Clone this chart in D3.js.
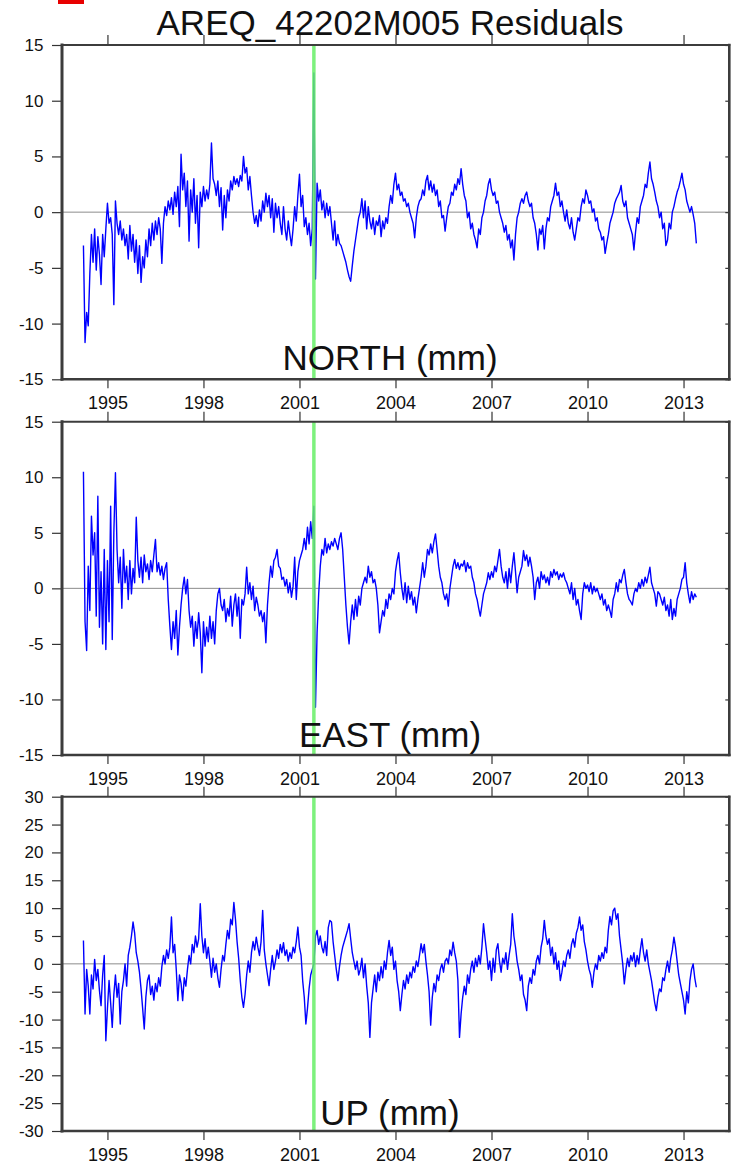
<!DOCTYPE html>
<html><head><meta charset="utf-8">
<script src="https://cdn.jsdelivr.net/npm/d3@7"></script>
<style>body{margin:0;background:#fff} svg{display:block}</style>
</head><body>
<svg id="c" width="740" height="1168"></svg>
<script>
const title = "AREQ_42202M005 Residuals";
const startYear = 1994.25, stepYear = 0.05;
const eventYear = 2001.45;
const xTicks = [1995, 1998, 2001, 2004, 2007, 2010, 2013];
const northTicks = [-15, -10, -5, 0, 5, 10, 15];
const eastTicks = [-15, -10, -5, 0, 5, 10, 15];
const upTicks = [-30, -25, -20, -15, -10, -5, 0, 5, 10, 15, 20, 25, 30];
const panelLabels = ["NORTH (mm)", "EAST (mm)", "UP (mm)"];

const north = [
 -3.0,-11.7,-9.0,-10.2,-5.5,-2.0,-4.5,-1.5,-5.2,-2.2,-3.8,-6.5,-2.0,-4.0,-1.5,
 0.8,-1.0,-0.5,-2.0,-8.3,1.0,-1.0,-2.0,-0.8,-2.5,-1.5,-3.0,-2.0,-4.2,-1.2,-3.5,-2.0,-4.5,-2.5,-5.5,
 -3.0,-6.3,-4.0,-5.0,-2.5,-4.0,-1.5,-3.0,-1.0,-2.5,-0.8,-2.0,-0.5,-1.5,-4.6,-1.0,0.5,-0.3,1.0,0.2,
 1.3,-0.2,1.8,0.5,2.3,-1.3,5.2,2.0,3.5,0.5,2.8,-2.6,2.0,0.0,3.0,-1.0,1.5,-3.2,1.8,0.5,
 2.3,1.0,2.0,1.2,2.5,6.2,3.0,2.5,1.5,2.8,0.5,2.2,-1.6,1.5,-0.5,2.0,1.0,2.8,2.0,3.2,
 2.5,3.0,2.3,3.3,2.8,5.0,3.5,4.0,2.0,3.2,1.5,0.0,-1.0,-0.3,-1.3,0.2,-0.8,1.0,0.0,1.7,
 0.5,1.5,-0.5,1.2,-1.8,0.8,-0.5,0.5,-1.0,-2.0,0.5,-1.5,-2.5,-0.8,-2.0,-3.0,-1.5,0.5,-0.8,1.5,
 3.4,0.5,1.5,-1.3,-0.5,-2.0,-1.0,-3.0,-1.5,12.5,-6.0,2.6,1.0,2.0,0.2,1.0,-0.5,0.8,-0.3,0.5,
 -1.0,-2.5,-0.8,-3.0,-2.0,-2.8,-3.0,-3.5,-4.0,-4.5,-5.2,-5.8,-6.2,-4.8,-3.5,-2.5,-1.5,-0.5,0.0,1.2,
 -0.5,1.0,-1.5,0.5,-0.8,-1.5,-0.5,-2.0,-0.8,-1.2,-0.3,-2.2,-0.8,-1.5,-0.5,-1.0,0.5,1.5,0.8,2.5,
 3.5,2.0,2.5,1.5,1.8,1.0,1.2,0.5,0.8,0.0,-0.5,-1.0,-2.3,-0.5,0.5,1.0,1.2,2.0,1.5,2.8,
 3.3,2.0,2.8,1.8,2.5,1.5,2.0,0.5,1.0,-0.5,-0.3,-1.7,-0.5,0.5,0.8,1.8,1.5,2.5,2.0,3.0,
 2.5,3.9,2.5,1.5,1.0,-0.5,0.0,-1.5,-1.0,-2.0,-2.5,-3.2,-1.5,-2.0,-0.5,0.0,1.0,1.5,2.5,3.0,
 2.0,1.5,1.8,0.8,1.0,0.0,-0.5,-1.0,-1.8,-1.2,-2.5,-2.0,-3.2,-2.5,-4.3,-2.0,-0.5,0.0,0.8,1.2,
 0.8,1.5,1.8,1.0,0.5,0.8,-0.5,-1.0,-2.0,-3.4,-1.5,-2.0,-1.2,-3.3,-1.5,-0.5,-0.8,0.5,1.0,1.5,
 2.6,1.5,1.8,0.5,1.0,0.0,-0.8,0.2,-1.0,-1.5,-0.5,-1.8,-2.5,-1.5,-0.5,-0.8,0.5,1.2,0.8,2.0,
 1.5,0.8,1.0,0.0,0.3,-0.8,-0.5,-1.5,-1.8,-2.5,-2.2,-3.7,-2.8,-2.0,-1.0,-0.5,0.0,0.8,1.2,1.5,
 1.8,2.4,1.0,0.5,1.0,-0.5,-1.0,-1.5,-2.0,-3.4,-1.8,-0.5,-1.0,0.5,1.0,1.5,2.5,2.2,3.5,4.5,
 3.0,2.5,1.8,1.0,0.5,-0.5,0.0,-1.5,-1.0,-3.0,-2.5,-1.0,-1.5,0.0,0.5,1.2,1.8,2.2,2.8,3.5,
 2.5,2.0,1.0,0.5,0.0,0.5,-0.2,-1.0,-2.8
];

const east = [
 10.5,-3.0,-5.6,2.0,-2.0,6.5,3.0,5.0,-2.5,8.3,-3.5,1.5,-5.0,3.5,-5.5,
 2.5,-3.0,7.4,-4.6,5.0,10.4,3.5,0.5,2.8,-1.8,3.5,0.5,2.0,-1.0,2.5,-0.5,1.8,0.5,6.4,2.5,
 1.0,2.8,0.5,3.0,1.5,2.2,0.8,2.5,1.5,3.0,4.4,1.5,2.3,1.2,2.0,0.8,1.8,2.3,-1.0,-3.4,
 -5.5,-3.0,-4.5,-2.0,-6.0,-3.5,-1.5,0.0,1.0,-0.5,0.8,-2.0,-3.5,-2.5,-5.2,-3.0,-4.5,-2.2,-4.0,-7.6,
 -3.0,-5.2,-3.5,-4.8,-2.5,-4.5,-3.0,-5.0,-2.0,-0.5,0.0,-1.5,-2.0,-1.0,-3.0,-1.8,-2.5,-0.7,-3.4,-1.5,
 -0.5,-2.5,-0.8,-4.5,-1.0,-1.5,-0.5,1.9,-0.5,0.5,-1.0,0.2,-2.0,-0.8,-1.5,-2.5,-2.0,-3.0,-2.2,-4.9,
 -1.5,0.5,2.0,1.0,2.5,2.8,3.5,2.0,1.8,0.8,1.0,0.2,0.8,-0.4,0.5,-0.8,0.2,2.8,-1.0,1.5,
 2.5,3.0,3.5,4.5,3.5,5.5,4.0,6.0,4.5,7.4,-10.7,-4.0,-0.5,2.0,3.5,3.0,4.5,3.2,4.0,3.5,
 4.2,3.8,4.5,4.0,3.5,4.5,5.0,3.5,1.0,-1.5,-3.5,-5.0,-3.0,-1.5,-2.8,-1.0,-2.5,-0.7,-1.5,0.0,
 0.5,1.0,0.5,2.0,1.0,1.5,0.5,0.8,0.0,-1.5,-4.0,-3.0,-2.0,-2.5,-1.0,-1.8,-0.5,-1.0,0.0,-0.5,
 1.5,2.5,3.2,1.4,0.0,-1.0,0.5,-1.3,0.2,-1.0,-0.3,-1.5,-0.8,-2.2,-1.0,0.0,1.0,2.3,1.0,2.0,
 3.5,3.0,4.0,3.2,4.2,4.9,3.5,2.0,1.0,0.5,-0.5,-1.0,-0.5,-1.6,0.0,1.0,2.0,2.6,1.8,2.3,
 1.7,2.2,2.0,2.5,1.5,2.3,1.8,2.0,1.0,0.5,-0.5,-1.0,-1.8,-2.5,-1.5,-0.5,0.0,0.5,1.4,0.8,
 1.5,1.0,2.0,1.5,2.5,3.5,2.0,1.0,0.5,1.5,0.0,1.8,0.5,2.0,3.2,1.5,-0.4,1.0,1.5,2.0,
 3.4,2.5,3.0,2.0,2.8,2.0,1.0,-1.0,0.5,1.0,0.0,1.5,0.8,1.2,0.5,1.0,0.3,1.5,1.0,1.7,
 1.2,1.5,0.8,1.3,1.0,1.4,0.8,0.5,0.0,-0.5,0.5,-1.0,0.0,-1.5,-1.0,-2.0,-2.8,-0.5,0.5,0.0,
 0.3,-0.3,0.5,-0.5,0.2,-0.3,0.0,-0.5,-1.0,-0.5,-1.5,-1.0,-2.0,-1.5,-2.0,-2.6,-1.0,-0.5,0.5,-0.3,
 0.8,0.5,1.2,1.7,0.5,-0.5,-1.0,-1.2,-1.5,-0.5,0.0,-0.3,0.5,0.0,0.8,0.2,1.0,0.5,1.2,1.9,
 0.5,0.0,-0.5,-1.6,-0.3,-0.5,-1.0,-1.5,-0.8,-2.0,-1.5,-2.5,-1.0,-2.8,-1.8,-2.5,-1.0,-0.5,0.0,0.8,
 1.0,2.3,0.5,-0.5,-1.3,-0.3,-1.0,-0.5,-0.8
];

const up = [
 4.2,-9.0,-1.0,-4.0,-9.0,-2.0,-4.5,0.8,-3.0,-1.0,-4.8,-7.5,-2.0,1.5,-13.8,
 -8.0,-3.0,-7.0,-11.4,-5.5,-2.0,-6.0,-3.5,-10.8,-5.0,-3.0,0.0,-4.0,1.5,3.0,5.0,7.5,5.5,2.0,0.5,
 -1.5,-4.5,-8.0,-11.7,-6.0,-3.0,-2.0,-5.5,-4.0,-6.5,-3.5,-5.0,-2.5,-4.0,-0.5,1.5,0.0,2.5,1.0,3.0,
 8.4,2.0,3.5,-1.0,-6.6,-2.0,-3.5,-6.6,-2.5,-4.0,-1.0,1.5,0.0,3.5,2.0,5.0,3.0,4.5,10.8,5.0,
 2.0,4.5,1.0,3.0,0.5,-2.4,1.0,-1.5,0.0,-2.5,-4.2,-1.0,1.5,0.5,3.5,6.0,4.5,8.0,7.0,11.0,
 8.0,4.0,1.0,-3.0,-6.0,-7.8,-5.5,-2.0,0.5,-1.5,2.0,4.0,2.5,4.8,3.0,1.5,4.0,9.6,2.5,0.0,
 -2.0,-3.9,-1.0,1.5,-1.0,0.5,2.5,1.0,3.5,2.0,3.8,1.5,2.5,0.5,2.0,1.0,3.0,2.0,4.0,6.6,
 3.0,1.5,-3.0,-6.0,-10.8,-8.0,-4.5,-2.0,-1.0,0.0,5.0,6.0,3.5,5.0,3.0,2.0,4.0,1.5,6.5,7.8,
 7.5,4.0,1.5,-1.0,-3.0,-0.5,1.5,3.0,4.0,5.0,6.0,7.2,4.5,2.0,0.5,-1.0,0.5,-2.0,-1.0,1.0,
 -2.5,0.0,-4.0,-7.0,-13.2,-7.0,-4.5,-2.0,-5.0,-1.5,-3.0,-0.5,-2.5,0.5,-1.0,2.0,4.2,1.5,3.0,-1.0,
 0.5,-3.0,-5.0,-8.4,-5.5,-3.0,-4.5,-2.0,-3.5,-1.5,-2.5,-0.5,-1.5,0.5,-0.5,1.5,3.6,2.0,3.5,0.5,
 -2.0,-5.0,-11.0,-6.0,-3.5,-5.0,-2.0,-3.0,-1.0,0.0,-1.5,0.5,1.0,0.0,2.5,1.5,3.9,2.0,0.5,-3.0,
 -13.2,-9.0,-6.0,-4.0,-5.5,-2.0,-3.5,-1.0,0.5,-1.5,1.0,-0.5,1.5,0.0,3.0,7.2,4.5,2.0,-1.0,0.5,
 -3.0,1.0,-1.5,2.5,3.6,0.5,-1.5,1.0,0.0,2.0,-1.0,1.5,3.5,9.0,5.0,3.0,0.5,-1.0,-3.0,-2.0,
 -5.5,-6.5,-8.4,-4.0,-2.5,-3.5,-1.0,-2.0,0.5,1.5,0.0,3.0,4.5,7.8,5.0,3.5,4.5,1.5,3.0,0.0,
 2.0,-1.0,0.5,-3.0,-1.5,0.5,-0.5,1.5,2.5,1.0,3.5,4.5,3.0,5.5,6.5,8.4,6.0,7.0,4.0,2.5,
 0.5,-1.0,-2.0,-4.2,-1.5,0.0,-1.0,1.5,0.5,2.0,1.0,3.0,2.0,6.0,8.5,7.0,9.5,10.0,8.0,9.0,
 5.0,2.5,0.0,-3.6,-1.0,1.0,-0.5,1.5,0.5,2.0,-0.5,1.5,0.0,2.5,4.5,2.0,0.5,2.5,0.0,-1.5,
 -3.0,-5.0,-7.0,-8.4,-6.0,-4.5,-5.0,-2.5,-3.0,-1.0,0.5,-1.5,1.0,2.5,4.8,3.0,0.5,-2.0,-3.5,-5.0,
 -6.5,-9.0,-5.0,-7.0,-3.0,-1.0,0.0,-2.5,-4.2
];

const svg = d3.select("#c");
const FONT = "'Liberation Sans', Arial, Helvetica, sans-serif";
const x = d3.scaleLinear().domain([1993.58, 2014.43]).range([62, 729.3]);
const frameColor = "#3c3c3c";

const panels = [
  {values: north, ticks: northTicks, domain: [-15, 15], top: 45, bottom: 379.3, labelY: 370},
  {values: east, ticks: eastTicks, domain: [-15, 15], top: 421.7, bottom: 755, labelY: 746.5},
  {values: up, ticks: upTicks, domain: [-30, 30], top: 796.7, bottom: 1131, labelY: 1125}
];

svg.append("rect").attr("x", 58).attr("y", 0).attr("width", 26).attr("height", 4).attr("fill", "#e80000");
svg.append("text").attr("x", 390).attr("y", 35).attr("text-anchor", "middle")
  .attr("font-family", FONT).attr("font-size", 35).attr("fill", "#111").text(title);

panels.forEach((p, k) => {
  const y = d3.scaleLinear().domain(p.domain).range([p.bottom, p.top]);
  const g = svg.append("g");

  g.append("line").attr("x1", x.range()[0]).attr("x2", x.range()[1])
    .attr("y1", y(0)).attr("y2", y(0)).attr("stroke", "#8c8c8c").attr("stroke-width", 1);

  const line = d3.line().x((d, i) => x(startYear + i * stepYear)).y(d => y(d));
  g.append("path").datum(p.values).attr("d", line)
    .attr("fill", "none").attr("stroke", "#0000ff").attr("stroke-width", 1.4)
    .attr("stroke-linejoin", "round");

  g.append("line").attr("x1", x(eventYear)).attr("x2", x(eventYear))
    .attr("y1", p.top).attr("y2", p.bottom)
    .attr("stroke", "#66ee66").attr("stroke-width", 3.5).attr("stroke-opacity", 0.85);

  const styleAxis = (sel) => {
    sel.select(".domain").remove();
    sel.attr("font-family", FONT).attr("color", "#333");
    sel.selectAll(".tick line").attr("stroke-width", 1.2);
    sel.selectAll(".tick text").attr("fill", "#111");
  };
  svg.append("g").attr("transform", `translate(0,${p.bottom})`)
    .call(d3.axisBottom(x).tickValues(xTicks).tickSize(9).tickPadding(8).tickFormat(d3.format("d")))
    .call(styleAxis).attr("font-size", 18);
  svg.append("g").attr("transform", `translate(0,${p.top})`)
    .call(d3.axisTop(x).tickValues(xTicks).tickSize(10).tickFormat(""))
    .call(styleAxis);
  svg.append("g").attr("transform", `translate(${x.range()[0]},0)`)
    .call(d3.axisLeft(y).tickValues(p.ticks).tickSize(10).tickPadding(8.5).tickFormat(d => String(d)))
    .call(styleAxis).attr("font-size", 17);
  svg.append("g").attr("transform", `translate(${x.range()[1]},0)`)
    .call(d3.axisRight(y).tickValues(p.ticks).tickSize(-4).tickFormat(""))
    .call(styleAxis);

  const x0 = x.range()[0], x1 = x.range()[1];
  const fr = svg.append("g").attr("stroke", frameColor).attr("stroke-linecap", "square");
  fr.append("line").attr("x1", x0).attr("x2", x1).attr("y1", p.top).attr("y2", p.top).attr("stroke-width", 2);
  fr.append("line").attr("x1", x0).attr("x2", x1).attr("y1", p.bottom).attr("y2", p.bottom).attr("stroke-width", 2.6);
  fr.append("line").attr("x1", x0).attr("x2", x0).attr("y1", p.top).attr("y2", p.bottom).attr("stroke-width", 3);
  fr.append("line").attr("x1", x1).attr("x2", x1).attr("y1", p.top).attr("y2", p.bottom).attr("stroke-width", 2.6);

  svg.append("text").attr("x", 390).attr("y", p.labelY).attr("text-anchor", "middle")
    .attr("font-family", FONT).attr("font-size", 35).attr("fill", "#111").text(panelLabels[k]);
});
</script>
</body></html>
